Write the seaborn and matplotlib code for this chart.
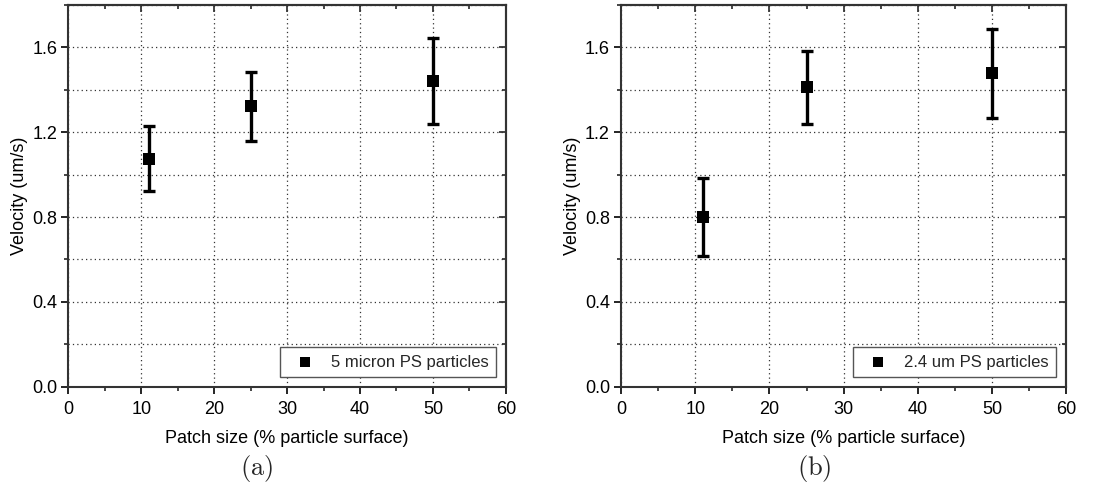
import matplotlib
matplotlib.use("Agg")
import matplotlib.pyplot as plt
import seaborn as sns
import pandas as pd
from matplotlib.ticker import MultipleLocator, NullFormatter

sns.set_theme(style="white")
plt.rcParams['font.family'] = ['Liberation Sans', 'DejaVu Sans']
plt.rcParams['mathtext.fontset'] = 'cm'

patch_size = [11, 25, 50]
vel_a = [1.075, 1.323, 1.443]
err_a = [0.153, 0.163, 0.202]
vel_b = [0.802, 1.411, 1.477]
err_b = [0.184, 0.174, 0.209]
labels = ["5 micron PS particles", "2.4 um PS particles"]
captions = ["(a)", "(b)"]

fig = plt.figure(figsize=(11.1, 4.96), dpi=100)
ax_a = fig.add_axes([0.0617, 0.2204, 0.394, 0.7696])
ax_b = fig.add_axes([0.5595, 0.2204, 0.401, 0.7696])

for ax, vel, err, lab, cap, cx in [(ax_a, vel_a, err_a, labels[0], captions[0], 0.231),
                                    (ax_b, vel_b, err_b, labels[1], captions[1], 0.734)]:
    df = pd.DataFrame({"x": patch_size, "y": vel, "e": err})
    ax.errorbar(df["x"], df["y"], yerr=df["e"], fmt='none', ecolor='black',
                elinewidth=2.4, capsize=4, capthick=2.4, zorder=3)
    sns.scatterplot(data=df, x="x", y="y", marker='s', s=85, color='black',
                    edgecolor='black', linewidth=0, ax=ax, zorder=4, label=lab)
    ax.set_xlim(0, 60)
    ax.set_ylim(0, 1.8)
    ax.xaxis.set_major_locator(MultipleLocator(10))
    ax.xaxis.set_minor_locator(MultipleLocator(5))
    ax.set_yticks([0.0, 0.4, 0.8, 1.2, 1.6])
    ax.set_yticklabels(["0.0", "0.4", "0.8", "1.2", "1.6"])
    ax.yaxis.set_minor_locator(MultipleLocator(0.2))
    ax.grid(True, which='major', axis='x', linestyle=(0, (1, 2.5)), color='#333333', linewidth=0.9)
    ax.grid(True, which='both', axis='y', linestyle=(0, (1, 2.5)), color='#333333', linewidth=0.9)
    ax.tick_params(axis='both', which='major', direction='out', length=5, width=1.2,
                   labelsize=13, colors='black', bottom=True, left=True, top=False, right=False)
    ax.tick_params(axis='x', which='major', pad=5)
    ax.tick_params(axis='y', which='major', pad=3)
    ax.tick_params(axis='both', which='minor', direction='out', length=3, width=1.2,
                   bottom=True, left=True, top=False, right=False)
    # mirrored inward ticks on top and right
    sx = ax.secondary_xaxis('top')
    sx.xaxis.set_major_locator(MultipleLocator(10))
    sx.xaxis.set_minor_locator(MultipleLocator(5))
    sx.xaxis.set_major_formatter(NullFormatter())
    sx.tick_params(which='major', direction='in', length=5, width=1.2)
    sx.tick_params(which='minor', direction='in', length=3, width=1.2)
    sx.spines['top'].set_linewidth(1.5)
    sx.spines['top'].set_color('#333333')
    sy = ax.secondary_yaxis('right')
    sy.yaxis.set_major_locator(MultipleLocator(0.4))
    sy.yaxis.set_minor_locator(MultipleLocator(0.2))
    sy.yaxis.set_major_formatter(NullFormatter())
    sy.tick_params(which='major', direction='in', length=5, width=1.2)
    sy.tick_params(which='minor', direction='in', length=3, width=1.2)
    sy.spines['right'].set_linewidth(1.5)
    sy.spines['right'].set_color('#333333')
    for sp in ax.spines.values():
        sp.set_color('#333333')
        sp.set_linewidth(1.5)
    ax.set_xlabel("Patch size (% particle surface)", fontsize=13, color='black', labelpad=9)
    ax.set_ylabel("Velocity (um/s)", fontsize=13, color='black', labelpad=3)
    leg = ax.legend(loc='lower right', fontsize=12, frameon=True, fancybox=False,
                    edgecolor='#555555', framealpha=1, borderpad=0.45, handletextpad=0.5,
                    handlelength=2.1, markerscale=0.8, borderaxespad=0,
                    bbox_to_anchor=(0.977, 0.025))
    leg.get_frame().set_linewidth(1.0)
    fig.text(cx, 0.056, r"$\mathrm{" + cap + "}$", ha='center', va='center', fontsize=19)

fig.savefig("out.png", dpi=100)
